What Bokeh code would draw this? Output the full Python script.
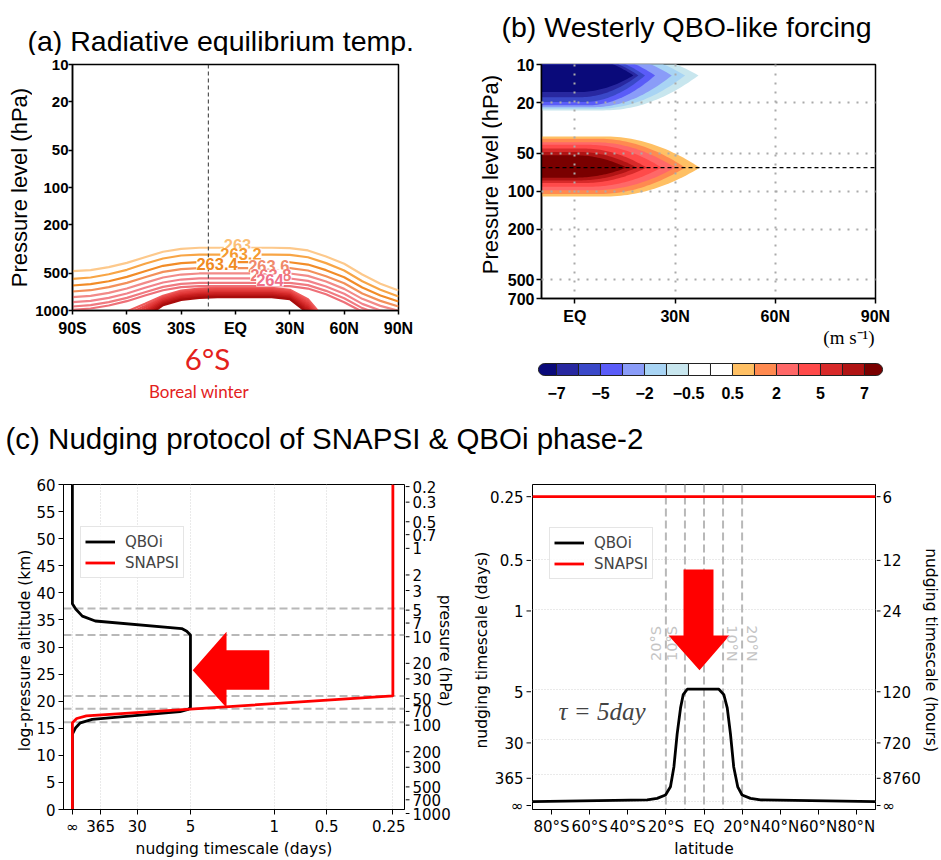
import math
from bokeh.plotting import figure
from bokeh.models import Range1d, FixedTicker, Label, Legend, LegendItem, Span
from bokeh.layouts import row, column
from bokeh.embed import file_html
from bokeh.resources import INLINE
from bokeh.core.properties import value

INF = float("inf")

# ======================= DATA =======================
# ---- (a) radiative equilibrium temperature contours: pressure (hPa) of each isotherm at each latitude
a_lat = [-90, -80, -70, -60, -50, -40, -30, -20, -10, 0, 10, 20, 30, 40, 50, 60, 70, 80, 90]
a_levels = [263.0, 263.2, 263.4, 263.6, 263.8, 264.0, 264.2, 264.4,
            264.6, 264.8, 265.0, 265.2, 265.4, 265.6, 265.8, 266.0]
a_contour_hpa = [
    [479, 470, 444, 410, 369, 333, 315, 309, 309, 309, 309, 309, 311, 325, 364, 417, 510, 607, 688],
    [553, 539, 507, 467, 417, 378, 357, 351, 351, 351, 351, 351, 353, 369, 412, 473, 578, 679, 770],
    [626, 611, 578, 533, 479, 433, 412, 405, 405, 405, 405, 405, 405, 423, 470, 536, 650, 755, 845],
    [701, 684, 646, 596, 536, 485, 461, 453, 453, 453, 453, 453, 453, 473, 526, 600, 728, 835, 928],
    [779, 760, 719, 663, 596, 539, 510, 500, 500, 500, 500, 500, 500, 523, 581, 667, 804, 917, 1006],
    [856, 835, 789, 728, 654, 592, 560, 549, 549, 549, 549, 549, 549, 574, 638, 732, 883, 1000, 1084],
    [928, 905, 856, 789, 710, 642, 607, 596, 596, 596, 596, 596, 596, 622, 692, 794, 957, 1078, 1162],
    [988, 963, 911, 840, 755, 684, 646, 634, 634, 634, 634, 634, 634, 663, 737, 856, 1025, 1147, 1237],
    [1454, 1454, 1284, 1019, 883, 760, 688, 663, 654, 654, 654, 654, 679, 809, 1206, 1454, 1454, 1454, 1454],
    [1454, 1454, 1366, 1078, 917, 779, 705, 679, 671, 671, 671, 671, 696, 840, 1268, 1454, 1454, 1454, 1454],
    [1454, 1454, 1454, 1147, 951, 799, 723, 696, 688, 688, 688, 688, 714, 872, 1332, 1454, 1454, 1454, 1454],
    [1454, 1454, 1454, 1221, 988, 819, 741, 714, 705, 705, 705, 705, 732, 905, 1400, 1454, 1454, 1454, 1454],
    [1454, 1454, 1454, 1300, 1025, 840, 760, 732, 723, 723, 723, 723, 750, 940, 1454, 1454, 1454, 1454, 1454],
    [1454, 1454, 1454, 1383, 1064, 861, 779, 750, 741, 741, 741, 741, 770, 975, 1454, 1454, 1454, 1454, 1454],
    [1454, 1454, 1454, 1454, 1105, 883, 799, 770, 760, 760, 760, 760, 789, 1013, 1454, 1454, 1454, 1454, 1454],
    [1454, 1454, 1454, 1454, 1147, 905, 819, 789, 779, 779, 779, 779, 809, 1051, 1454, 1454, 1454, 1454, 1454],
]
a_marker_lat = -15
a_lat_ticks = [-90, -60, -30, 0, 30, 60, 90]
a_lat_labels = ["90S", "60S", "30S", "EQ", "30N", "60N", "90N"]
a_p_ticks = [10, 20, 50, 100, 200, 500, 1000]

# ---- (b) westerly QBO-like forcing (m/s): filled-contour extents
b_lat_ticks = [0, 30, 60, 90]
b_lat_labels = ["EQ", "30N", "60N", "90N"]
b_p_ticks = [10, 20, 50, 100, 200, 500, 700]
b_neg_levels = [-0.5, -1, -2, -3, -5, -6, -7]
b_neg_tip_lat = [37.0, 33.0, 29.0, 24.0, 21.0, 19.0, 17.5]
b_neg_top_hpa = [7.5, 7.7, 7.9, 8.1, 8.3, 8.5, 8.7]
b_neg_bot_hpa = [23.0, 22.3, 21.7, 21.0, 19.8, 18.1, 16.5]
b_neg_core_hpa = 12.2
b_pos_levels = [0.5, 1, 2, 3, 5, 6, 7]
b_pos_tip_lat = [37.4, 33.0, 30.0, 26.0, 21.5, 18.5, 15.5]
b_pos_top_hpa = [36.9, 38.5, 41.0, 43.0, 46.0, 49.0, 52.0]
b_pos_bot_hpa = [110, 105, 98, 92, 86, 82, 78]
b_pos_core_hpa = 65
b_cbar_bounds = [-7, -6, -5, -3, -2, -1, -0.5, 0, 0.5, 1, 2, 3, 5, 6, 7]
b_cbar_shown = [-7, -5, -2, -0.5, 0.5, 2, 5, 7]

# ---- (c) nudging protocol
H_SCALE_KM = 7.0
cl_qboi_z = [0, 13.9, 15.1, 16.0, 16.65, 18.05, 18.5, 18.8, 32.2, 32.9, 33.4, 34.8, 35.7, 37.0, 38.0, 60]
cl_qboi_tau = [INF, INF, 2.3e5, 1.64e4, 1046, 6.6, 5.3, 5.0, 5.0, 5.5, 6.3, 687, 8360, 2.3e5, INF, INF]
cl_snapsi_z = [0, 16.0, 16.8, 17.3, 20.97, 60]
cl_snapsi_tau = [INF, INF, 1e5, 3000, 0.25, 0.25]
cl_dashed_hpa = [5, 10, 50, 70, 100]
c_tau_ticks = [INF, 365, 30, 5, 1, 0.5, 0.25]
c_tau_labels = ["∞", "365", "30", "5", "1", "0.5", "0.25"]
c_hour_labels = ["∞", "8760", "720", "120", "24", "12", "6"]
cl_z_ticks = [0, 5, 10, 15, 20, 25, 30, 35, 40, 45, 50, 55, 60]
cl_p_ticks = [0.2, 0.3, 0.5, 0.7, 1, 2, 3, 5, 7, 10, 20, 30, 50, 70, 100, 200, 300, 500, 700, 1000]

cr_qboi_lat = [-90, -29.8, -24.6, -20.2, -17.6, -15.8, -14.1, -12.3, -10.9, -8.8,
               7.8, 10.4, 12.2, 13.9, 15.6, 17.7, 20.0, 24.4, 29.6, 90]
cr_qboi_tau = [INF, 1.5e6, 2.0e5, 24500, 2180, 171, 23.1, 8.6, 5.8, 5.0,
               5.0, 5.8, 8.6, 23.1, 171, 2180, 24500, 2.0e5, 1.5e6, INF]
cr_snapsi_lat = [-90, 90]
cr_snapsi_tau = [0.25, 0.25]
cr_dashed_lat = [-20, -10, 0, 10, 20]
cr_lat_ticks = [-80, -60, -40, -20, 0, 20, 40, 60, 80]
cr_lat_labels = ["80°S", "60°S", "40°S", "20°S", "EQ", "20°N", "40°N", "60°N", "80°N"]

# ======================= STYLES =======================
a_line_colors = ["#fdc98c", "#f8a545", "#f28c28", "#f3905a", "#f28a88", "#f2828a", "#f07a80", "#ee7078",
                 "#ef5c5c", "#ea4c4c", "#e43e3e", "#dc3232", "#d02626", "#c41c1c", "#b81414", "#a80c0c"]
b_cbar_colors = ["#0a0a7a", "#2828a0", "#3a48c8", "#5a5cf8", "#8a9cf8", "#a8d4f4", "#c8e6ee", "#ffffff",
                 "#ffffff", "#ffc064", "#ff8a50", "#ff6868", "#ff4a4a", "#d82a2a", "#b01414", "#7a0000"]
NCL = "Liberation Sans"
MPL = "DejaVu Sans"


def rate_cbrt(tau):
    return 0.0 if tau == INF else (1.0 / tau) ** (1.0 / 3.0)


def zlog(p):
    return H_SCALE_KM * math.log(1000.0 / p)


def fig(**kw):
    return figure(toolbar_location=None, output_backend="svg", background_fill_color="white",
                  border_fill_color="white", frame_align=False, **kw)


def strip(w, h, yr=None):
    """Text-only figure whose frame is the whole canvas (x in px, y in px from top unless yr)."""
    f = fig(width=w, height=h, x_range=Range1d(0, w), y_range=yr if yr is not None else Range1d(h, 0),
            x_axis_location=None, y_axis_location=None, min_border=0)
    f.grid.visible = False
    f.outline_line_color = None
    return f


def txt(f, xs, ys, texts, size, font=NCL, color="black", align="center", angle=0.0, style="normal"):
    f.text(x=xs, y=ys, text=texts, angle=angle, text_font=value(font), text_font_size=size,
           text_color=color, text_align=align, text_baseline="middle", text_font_style=style)


def ncl_axis(ax, tick_out=4, standoff=2, size="16px"):
    ax.major_label_text_font = NCL
    ax.major_label_text_font_style = "bold"
    ax.major_label_text_font_size = size
    ax.major_label_text_color = "black"
    ax.axis_line_color = "black"
    ax.axis_line_width = 1.5
    ax.major_tick_line_color = "black"
    ax.major_tick_line_width = 1.5
    ax.major_tick_in = 0
    ax.major_tick_out = tick_out
    ax.major_label_standoff = standoff
    ax.minor_tick_line_color = None


def mpl_axis(ax, standoff=3):
    ax.major_label_text_font = MPL
    ax.major_label_text_font_size = "15px"
    ax.major_label_text_color = "black"
    ax.axis_line_color = "black"
    ax.axis_line_width = 1
    ax.major_tick_line_color = "black"
    ax.major_tick_line_width = 1
    ax.major_tick_in = 0
    ax.major_tick_out = 5
    ax.major_label_standoff = standoff
    ax.minor_tick_line_color = None


def mpl_xlabel(ax, text):
    ax.axis_label = text
    ax.axis_label_text_font = MPL
    ax.axis_label_text_font_size = "15.5px"
    ax.axis_label_text_font_style = "normal"
    ax.axis_label_text_color = "black"
    ax.axis_label_standoff = 1


# ======================= (a) =======================
tA = strip(470, 55)
txt(tA, [27], [40], ["(a) Radiative equilibrium temp."], "28.5px", align="left")
yA = strip(32, 284)
txt(yA, [19], [132], ["Pressure level (hPa)"], "22px", angle=math.pi / 2)
bA = strip(470, 81)
txt(bA, [207], [18.5], ["6°S"], "29.5px", font="Lato", color="#e3211c")
txt(bA, [198.5], [52], ["Boreal winter"], "17px", font="Lato", color="#e3211c")

pa = fig(width=438, height=284, x_range=Range1d(-90, 90), y_range=Range1d(1000, 10), y_axis_type="log",
         min_border_left=39, min_border_right=72, min_border_top=9, min_border_bottom=29)
pa.grid.visible = False
pa.outline_line_color = "black"
pa.outline_line_width = 1.5
pa.multi_line(xs=[a_lat for _ in a_contour_hpa], ys=a_contour_hpa, line_color=a_line_colors, line_width=2.2)
pa.xaxis.ticker = FixedTicker(ticks=a_lat_ticks)
pa.xaxis.major_label_overrides = dict(zip(a_lat_ticks, a_lat_labels))
pa.yaxis.ticker = FixedTicker(ticks=a_p_ticks)
pa.yaxis.major_label_overrides = {p: f"{p:g}" for p in a_p_ticks}
ncl_axis(pa.xaxis[0], 4, 5)
ncl_axis(pa.yaxis[0], 4, 0, "15px")
pa.add_layout(Span(location=a_marker_lat, dimension="height", line_color="#333333",
                   line_width=1, line_dash="4 3"))
label_spots = [(1.1, 296), (3.0, 350), (-10.2, 415), (18.4, 431), (19.5, 519), (19.0, 570)]
label_cols = ["#fbbf78", "#f59a30", "#f08a22", "#f08a6a", "#f07878", "#f0708a"]
for lev, (lx, ly), lc in zip(a_levels[:6], label_spots, label_cols):
    pa.add_layout(Label(x=lx, y=ly, text=f"{lev:g}", text_font=NCL, text_font_size="16.5px",
                        text_font_style="bold", text_color=lc, text_align="center",
                        text_baseline="middle", background_fill_color="white"))

# ======================= (b) =======================
tB = strip(471, 55)
txt(tB, [31], [26.5], ["(b) Westerly QBO-like forcing"], "28.5px", align="left")
yB = strip(32, 273)
txt(yB, [19.5], [119], ["Pressure level (hPa)"], "22px", angle=math.pi / 2)

pb = fig(width=439, height=273, x_range=Range1d(-10, 90), y_range=Range1d(700, 10), y_axis_type="log",
         min_border_left=39, min_border_right=66, min_border_top=9, min_border_bottom=30)
pb.outline_line_color = "black"
pb.outline_line_width = 1.5


def blob(tip, p_top, p_bot, p_core, n=48):
    lc = math.log10(p_core)
    ht = lc - math.log10(p_top)
    hb = math.log10(p_bot) - lc
    x0 = -10 + 0.4 * (tip + 10)
    lats = [-12 + (tip + 12) * i / n for i in range(n + 1)]
    top, bot = [], []
    for la in lats:
        s = max(0.0, (la - x0) / (tip - x0))
        f = max(0.0, 1 - s * s)
        top.append(10 ** (lc - ht * f))
        bot.append(10 ** (lc + hb * f))
    return lats + lats[::-1], top + bot[::-1]


bxs, bys, bcs = [], [], []
for v, tip, ptp, pbt in zip(b_neg_levels, b_neg_tip_lat, b_neg_top_hpa, b_neg_bot_hpa):
    xs, ys = blob(tip, ptp, pbt, b_neg_core_hpa)
    bxs.append(xs); bys.append(ys); bcs.append(b_cbar_colors[b_cbar_bounds.index(v)])
for v, tip, ptp, pbt in zip(b_pos_levels, b_pos_tip_lat, b_pos_top_hpa, b_pos_bot_hpa):
    xs, ys = blob(tip, ptp, pbt, b_pos_core_hpa)
    bxs.append(xs); bys.append(ys); bcs.append(b_cbar_colors[b_cbar_bounds.index(v) + 1])
pb.patches(xs=bxs, ys=bys, fill_color=bcs, line_color=None)
pb.xaxis.ticker = FixedTicker(ticks=b_lat_ticks)
pb.xaxis.major_label_overrides = dict(zip(b_lat_ticks, b_lat_labels))
pb.yaxis.ticker = FixedTicker(ticks=b_p_ticks)
pb.yaxis.major_label_overrides = {p: f"{p:g}" for p in b_p_ticks}
ncl_axis(pb.xaxis[0], 5, 4)
ncl_axis(pb.yaxis[0], 5, 2)
for g in (pb.xgrid[0], pb.ygrid[0]):
    g.level = "overlay"
    g.grid_line_color = "#aaaaaa"
    g.grid_line_dash = "2 7"
    g.grid_line_width = 2
pb.add_layout(Span(location=b_pos_core_hpa, dimension="width", line_color="black",
                   line_width=1.2, line_dash="4 3"))

# colour bar (box units along x, px along y)
CB_X0, CB_W = -2.909, 22.0
pcb = fig(width=471, height=92, x_range=Range1d(CB_X0, CB_X0 + 471 / CB_W), y_range=Range1d(92, 0),
          x_axis_location=None, y_axis_location=None, min_border=0)
pcb.grid.visible = False
pcb.outline_line_color = None
pcb.quad(left=list(range(1, 15)), right=list(range(2, 16)), top=35, bottom=47,
         fill_color=b_cbar_colors[1:15], line_color="#222222", line_width=1)
capx_l, capy, capx_r = [], [], []
for i in range(13):
    th = math.pi / 2 + math.pi * i / 12
    capx_l.append(0.47 + 0.29 * math.cos(th))
    capx_r.append(15.53 - 0.29 * math.cos(th))
    capy.append(41 - 6 * math.sin(th))
pcb.patches(xs=[[1] + capx_l + [1], [15] + capx_r + [15]], ys=[[35] + capy + [47], [35] + capy + [47]],
            fill_color=[b_cbar_colors[0], b_cbar_colors[15]], line_color="#222222", line_width=1)
cb_ticks = [b_cbar_bounds.index(v) + 1 for v in b_cbar_shown]
txt(pcb, cb_ticks, [64] * len(cb_ticks), [f"{v:g}".replace("-", "−") for v in b_cbar_shown],
    "16px", style="bold")
txt(pcb, [CB_X0 + 378.5 / CB_W], [9], ["(m s⁻¹)"], "19px", font="Liberation Serif")

# ======================= (c) title =======================
pt = strip(941, 40)
txt(pt, [5], [18], ["(c) Nudging protocol of SNAPSI & QBOi phase-2"], "29.5px", align="left")

# ======================= (c) left =======================
ZR = Range1d(-8.5714, 64.3769)      # z range spanning the full 400-px column (frame: 24 px top, 47 px bottom)
UR = Range1d(-0.28257, 1.77336)     # cube-root-rate range spanning the full column of the right panel

pcl = fig(width=372, height=400, x_range=Range1d(-0.044, 1.645), y_range=Range1d(0, 60),
          min_border_left=28, min_border_right=1, min_border_top=24, min_border_bottom=47)
pcl.outline_line_color = "black"
pcl.ygrid.visible = False
pcl.xgrid.grid_line_color = "#d4d4d4"
pcl.xgrid.grid_line_dash = "1 2"
for p in cl_dashed_hpa:
    pcl.add_layout(Span(location=zlog(p), dimension="width", line_color="#b8b8b8", line_width=2,
                        line_dash="8 4", level="underlay"))
u_ticks = [rate_cbrt(t) for t in c_tau_ticks]
r_q = pcl.line([rate_cbrt(t) for t in cl_qboi_tau], cl_qboi_z, line_color="black", line_width=2.8)
r_s = pcl.line([rate_cbrt(t) for t in cl_snapsi_tau], cl_snapsi_z, line_color="#ff0000", line_width=2.8)
pcl.patch([0.596, 0.7635, 0.7635, 0.9754, 0.9754, 0.7635, 0.7635],
          [25.7, 32.8, 29.4, 29.4, 22.1, 22.1, 18.8], fill_color="#ff0000", line_color=None)
pcl.xaxis.ticker = FixedTicker(ticks=u_ticks)
pcl.xaxis.major_label_overrides = dict(zip(u_ticks, c_tau_labels))
pcl.yaxis.ticker = FixedTicker(ticks=cl_z_ticks)
mpl_axis(pcl.xaxis[0], 3)
mpl_axis(pcl.yaxis[0], 3)
mpl_xlabel(pcl.xaxis[0], "nudging timescale (days)")
leg = Legend(items=[LegendItem(label="QBOi", renderers=[r_q]), LegendItem(label="SNAPSI", renderers=[r_s])],
             location=(17, 231), label_text_font=MPL, label_text_font_size="15px", glyph_width=30,
             glyph_height=21, label_height=21, spacing=0, padding=4, margin=0, label_standoff=10,
             border_line_color="#cccccc", background_fill_alpha=0.85)
pcl.add_layout(leg)

sL1 = strip(33, 400)
txt(sL1, [24], [190], ["log-pressure altitude (km)"], "15.5px", font=MPL, angle=math.pi / 2)
z_ticks = [zlog(p) for p in cl_p_ticks]
sL2 = strip(65, 400, yr=ZR)
sL2.segment(x0=[0] * len(z_ticks), y0=z_ticks, x1=[4] * len(z_ticks), y1=z_ticks, line_color="black", line_width=1)
txt(sL2, [7] * len(z_ticks), z_ticks, [f"{p:g}" for p in cl_p_ticks], "15px", font=MPL, align="left")
txt(sL2, [39.5], [29.7], ["pressure (hPa)"], "15.5px", font=MPL, angle=-math.pi / 2)

# ======================= (c) right =======================
pcr = fig(width=345, height=400, x_range=Range1d(-90, 90), y_range=Range1d(-0.041, 1.650),
          min_border_left=1, min_border_right=1, min_border_top=24, min_border_bottom=47)
pcr.outline_line_color = "black"
pcr.xgrid.visible = False
pcr.yaxis.ticker = FixedTicker(ticks=u_ticks)
pcr.yaxis.visible = False
pcr.ygrid.grid_line_color = "#d4d4d4"
pcr.ygrid.grid_line_dash = "1 2"
for la in cr_dashed_lat:
    pcr.add_layout(Span(location=la, dimension="height", line_color="#b8b8b8", line_width=2,
                        line_dash="8 4", level="underlay"))
lat_text = {-20: ("20°S", -25.1, math.pi / 2), -10: ("10°S", -16.9, math.pi / 2),
            10: ("10°N", 14.6, -math.pi / 2), 20: ("20°N", 25.1, -math.pi / 2)}
for la in cr_dashed_lat:
    if la in lat_text:
        t, xx, ang = lat_text[la]
        pcr.add_layout(Label(x=xx, y=0.823, text=t, text_font=MPL, text_font_size="14.5px",
                             text_color="#c4c4c4", text_align="center", text_baseline="middle", angle=ang))
r_q2 = pcr.line(cr_qboi_lat, [rate_cbrt(t) for t in cr_qboi_tau], line_color="black", line_width=2.8)
r_s2 = pcr.line(cr_snapsi_lat, [rate_cbrt(t) for t in cr_snapsi_tau], line_color="#ff0000", line_width=2.8)
pcr.patch([-10.75, 4.98, 4.98, 13.4, -2.36, -18.6, -10.75],
          [1.208, 1.208, 0.864, 0.864, 0.684, 0.864, 0.864], fill_color="#ff0000", line_color=None)
pcr.xaxis.ticker = FixedTicker(ticks=cr_lat_ticks)
pcr.xaxis.major_label_overrides = dict(zip(cr_lat_ticks, cr_lat_labels))
mpl_axis(pcr.xaxis[0], 3)
mpl_xlabel(pcr.xaxis[0], "latitude")
leg2 = Legend(items=[LegendItem(label="QBOi", renderers=[r_q2]), LegendItem(label="SNAPSI", renderers=[r_s2])],
              location=(17, 230), label_text_font=MPL, label_text_font_size="15px", glyph_width=30,
              glyph_height=21, label_height=21, spacing=0, padding=4, margin=0, label_standoff=10,
              border_line_color="#cccccc", background_fill_alpha=0.85)
pcr.add_layout(leg2)
pcr.add_layout(Label(x=-76.3, y=0.468, text="τ = 5day", text_font="Liberation Serif", text_font_size="25px",
                     text_font_style="italic", text_align="left", text_baseline="middle"))

n_u = len(u_ticks)
sR1 = strip(61, 400, yr=UR)
sR1.segment(x0=[56] * n_u, y0=u_ticks, x1=[61] * n_u, y1=u_ticks, line_color="black", line_width=1)
txt(sR1, [53] * n_u, u_ticks, c_tau_labels, "15px", font=MPL, align="right")
txt(sR1, [11.5], [0.799], ["nudging timescale (days)"], "15.5px", font=MPL, angle=math.pi / 2)
sR2 = strip(65, 400, yr=UR)
sR2.segment(x0=[0] * n_u, y0=u_ticks, x1=[4] * n_u, y1=u_ticks, line_color="black", line_width=1)
txt(sR2, [6] * n_u, u_ticks, c_hour_labels, "15px", font=MPL, align="left")
txt(sR2, [54], [0.799], ["nudging timescale (hours)"], "15.5px", font=MPL, angle=-math.pi / 2)

layout = column(
    row(column(tA, row(yA, pa), bA), column(tB, row(yB, pb), pcb)),
    pt,
    row(sL1, pcl, sL2, sR1, pcr, sR2),
)
open("out.html", "w").write(file_html(layout, INLINE, title="Nudging protocol"))
